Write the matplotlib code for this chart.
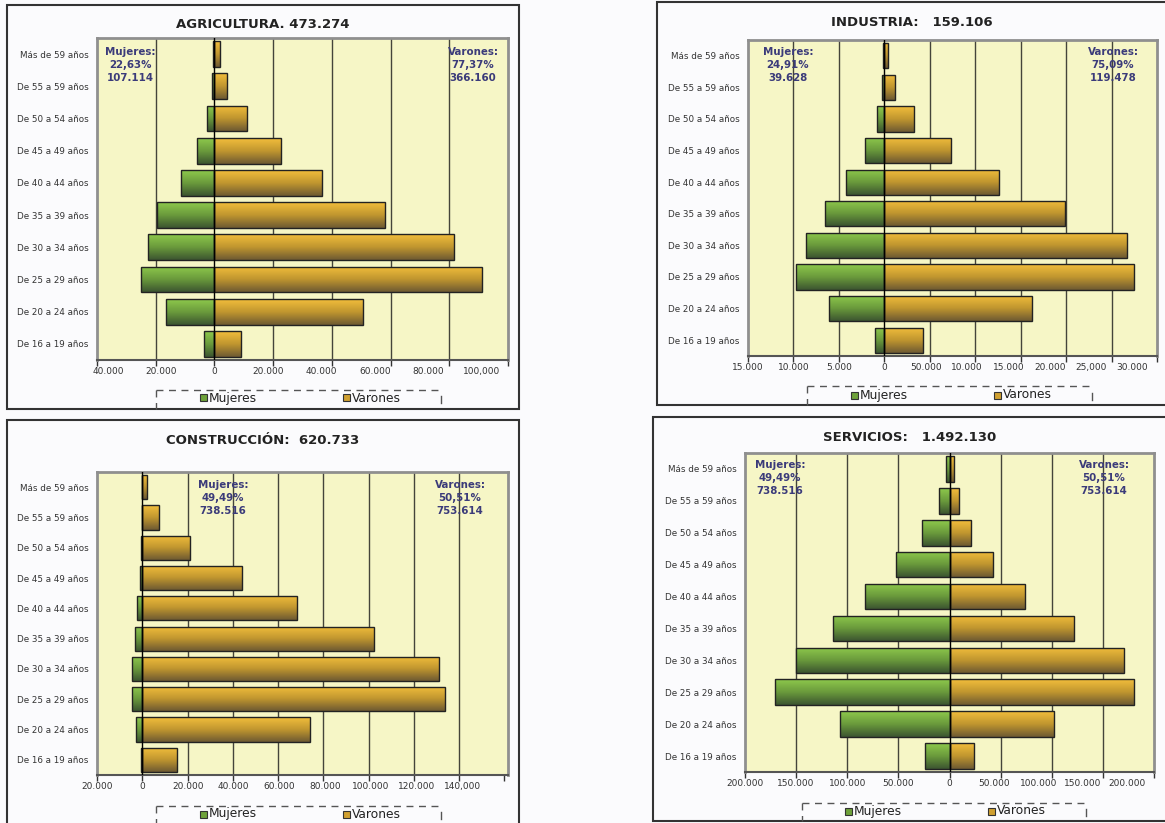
import numpy as np
import matplotlib.pyplot as plt
from matplotlib.patches import Rectangle
from matplotlib.lines import Line2D
from matplotlib.colors import LinearSegmentedColormap

W, H = 1165, 823

# age groups, bottom to top
edades = ["De 16 a 19 años", "De 20 a 24 años", "De 25 a 29 años", "De 30 a 34 años",
          "De 35 a 39 años", "De 40 a 44 años", "De 45 a 49 años", "De 50 a 54 años",
          "De 55 a 59 años", "Más de 59 años"]

agri_muj = [3400, 16600, 25100, 22700, 19400, 11400, 6000, 2400, 900, 500]
agri_var = [9100, 50700, 91100, 81500, 58200, 36600, 22700, 11100, 4300, 1800]
ind_muj = [1050, 6100, 9750, 8600, 6500, 4200, 2100, 820, 300, 100]
ind_var = [4270, 16200, 27450, 26680, 19850, 12660, 7300, 3250, 1200, 440]
cons_muj = [600, 2800, 4700, 4700, 3200, 2200, 1100, 600, 300, 200]
cons_var = [15300, 74200, 133800, 131200, 102500, 68400, 44100, 20900, 7400, 2200]
serv_muj = [23500, 107000, 171000, 150000, 114000, 83000, 52000, 26500, 10300, 3800]
serv_var = [23500, 102000, 180100, 170700, 121800, 74300, 43000, 21200, 9400, 4200]

agri_ticks = [-40000, -20000, 0, 20000, 40000, 60000, 80000, 100000]
agri_labels = ["40.000", "20.000", "0", "20.000", "40.000", "60.000", "80.000", "100,000"]
ind_ticks = [-15000, -10000, -5000, 0, 5000, 10000, 15000, 20000, 25000, 30000]
ind_labels = ["15.000", "10.000", "5.000", "0", "50.000", "10.000", "15.000", "20.000", "25,000", "30.000"]
cons_ticks = [-20000, 0, 20000, 40000, 60000, 80000, 100000, 120000, 140000, 160000]
cons_labels = ["20.000", "0", "20.000", "40.000", "60.000", "80.000", "100.000", "120.000", "140,000", ""]
serv_ticks = [-200000, -150000, -100000, -50000, 0, 50000, 100000, 150000, 200000]
serv_labels = ["200.000", "150.000", "100.000", "50.000", "0", "50.000", "100.000", "150.000", "200.000"]

BG = '#fbfbfd'
PLOT_BG = '#f6f6c6'
TXT_BLUE = '#3b3b7a'
green_cmap = LinearSegmentedColormap.from_list('g', ['#3c5530', '#6a9a3c', '#8ec94c'])
orange_cmap = LinearSegmentedColormap.from_list('o', ['#6e5a32', '#c0962f', '#f2be3c'])
grad = np.linspace(0, 1, 64).reshape(-1, 1)


def fx(x):
    return x / W


def fy(y):
    return 1 - y / H


def gradient_bars(ax, bars, cmap):
    for b in bars:
        x0, y0 = b.get_x(), b.get_y()
        w, h = b.get_width(), b.get_height()
        im = ax.imshow(grad, extent=[x0, x0 + w, y0, y0 + h], origin='lower', cmap=cmap,
                       aspect='auto', zorder=2, interpolation='bilinear')
        im.set_clip_path(b)


def draw_panel(fig, box, area, title, title_xy, muj, var, ticks, labels, sq,
               note_m, note_m_xy, note_v, note_v_xy, leg):
    # panel frame, behind the axes
    fig.patches.append(Rectangle((fx(box[0]), fy(box[3])), (box[2] - box[0]) / W,
                                 (box[3] - box[1]) / H, transform=fig.transFigure,
                                 facecolor=BG, edgecolor='#333333', lw=1.5, zorder=-5))
    ax = fig.add_axes([fx(area[0]), fy(area[3]), (area[2] - area[0]) / W, (area[3] - area[1]) / H])
    ax.set_facecolor(PLOT_BG)
    y = np.arange(len(edades))
    bm = ax.barh(y, -np.array(muj), height=0.8, facecolor='none', edgecolor='#222222', lw=1, zorder=3)
    bv = ax.barh(y, var, height=0.8, facecolor='none', edgecolor='#222222', lw=1, zorder=3)
    gradient_bars(ax, bm, green_cmap)
    gradient_bars(ax, bv, orange_cmap)
    ax.axvline(0, color='black', lw=1, zorder=4)
    ax.set_xlim(ticks[0], ticks[-1])
    ax.set_ylim(-0.5, len(edades) - 0.5)
    ax.set_yticks(y)
    ax.set_yticklabels(edades, fontsize=6.3, color='#333333')
    ax.tick_params(axis='y', length=0, pad=6)
    # grid lines and tick marks at true positions
    ax.set_xticks(ticks)
    ax.set_xticklabels([''] * len(ticks))
    ax.tick_params(axis='x', which='major', length=4, width=1, color='#333333', direction='out')
    for t in ticks[1:-1]:
        if t != 0:
            ax.axvline(t, color='#44443a', lw=1, zorder=1)
    # tick labels placed slightly squeezed as in the original
    ax.xaxis.remove_overlapping_locs = False
    pos = [t * (sq[0] if t < 0 else sq[1]) for t in ticks]
    ax.set_xticks(pos, minor=True)
    ax.set_xticklabels(labels, minor=True, fontsize=6.5, color='#333333')
    ax.tick_params(axis='x', which='minor', length=0, pad=5)
    for s in ax.spines.values():
        s.set_color('#8f8f8f')
        s.set_linewidth(2)
    ax.spines['bottom'].set_color('#555555')
    ax.spines['bottom'].set_linewidth(1.5)

    fig.text(fx(title_xy[0]), fy(title_xy[1]), title, ha='center', va='center',
             fontsize=9.5, fontweight='bold', color='#222222')
    for note, xy in ((note_m, note_m_xy), (note_v, note_v_xy)):
        fig.text(fx(xy[0]), fy(xy[1]), note, ha='center', va='top', fontsize=7.4,
                 fontweight='bold', color=TXT_BLUE, linespacing=1.4, zorder=5)

    # legend with dashed frame
    l, r, top, ty, gx, ox, bot = leg
    fig.add_artist(Line2D([fx(l), fx(r)], [fy(top), fy(top)], color='#555555', lw=1,
                          ls=(0, (5, 4))))
    fig.add_artist(Line2D([fx(l), fx(l)], [fy(top), fy(bot)], color='#555555', lw=1,
                          ls=(0, (5, 4))))
    fig.add_artist(Line2D([fx(r), fx(r)], [fy(ty - 2), fy(ty + 5)], color='#555555', lw=1))
    for sx, name, col in ((gx, 'Mujeres', '#6ea23a'), (ox, 'Varones', '#d0a030')):
        fig.patches.append(Rectangle((fx(sx - 3.5), fy(ty + 3.5)), 7 / W, 7 / H,
                                     transform=fig.transFigure, facecolor=col,
                                     edgecolor='#333333', lw=0.8))
        fig.text(fx(sx + 6), fy(ty), name, ha='left', va='center', fontsize=8.8, color='#222222')
    return ax


fig = plt.figure(figsize=(W / 100, H / 100), dpi=100)
fig.patch.set_facecolor(BG)

draw_panel(fig, (7, 5, 519, 409), (97, 38, 508, 360), "AGRICULTURA. 473.274", (263, 25),
           agri_muj, agri_var, agri_ticks, agri_labels, (0.905, 0.91),
           "Mujeres:\n22,63%\n107.114", (130, 47), "Varones:\n77,37%\n366.160", (473, 47),
           (156, 441, 390, 398, 203, 346, 409))
draw_panel(fig, (657, 2, 1170, 405), (748, 40, 1157, 356), "INDUSTRIA:   159.106", (912, 22),
           ind_muj, ind_var, ind_ticks, ind_labels, (1.0, 0.91),
           "Mujeres:\n24,91%\n39.628", (788, 47), "Varones:\n75,09%\n119.478", (1113, 47),
           (807, 1092, 386, 395, 854, 997, 405))
draw_panel(fig, (7, 420, 519, 830), (97, 472, 508, 775), "CONSTRUCCIÓN:  620.733", (263, 441),
           cons_muj, cons_var, cons_ticks, cons_labels, (1.0, 1.01),
           "Mujeres:\n49,49%\n738.516", (223, 480), "Varones:\n50,51%\n753.614", (460, 480),
           (156, 441, 806, 814, 203, 346, 830))
draw_panel(fig, (653, 417, 1170, 821), (745, 453, 1154, 772), "SERVICIOS:   1.492.130", (910, 437),
           serv_muj, serv_var, serv_ticks, serv_labels, (1.0, 0.87),
           "Mujeres:\n49,49%\n738.516", (780, 460), "Varones:\n50,51%\n753.614", (1104, 460),
           (802, 1086, 803, 811, 848, 991, 821))

plt.savefig('out.png', dpi=100, facecolor=BG)
